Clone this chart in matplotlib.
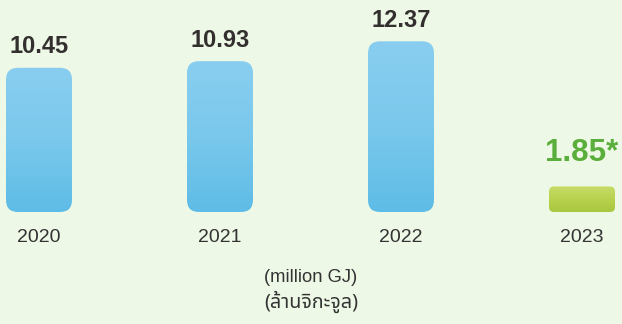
import numpy as np
import matplotlib
matplotlib.use("Agg")
import matplotlib.pyplot as plt
from matplotlib.patches import FancyBboxPatch
from matplotlib.colors import LinearSegmentedColormap

years = ["2020", "2021", "2022", "2023"]
energy = [10.45, 10.93, 12.37, 1.85]
value_labels = ["10.45", "10.93", "12.37", "1.85*"]

px_x = 181.0   # pixels per category
px_y = 13.8    # pixels per million GJ
base_px = 112  # baseline height from bottom

bg = "#eef8e6"
fig = plt.figure(figsize=(6.22, 3.24), dpi=100)
fig.patch.set_facecolor(bg)
ax = fig.add_axes([0, 0, 1, 1])
ax.set_facecolor(bg)
ax.set_xlim(-39 / px_x, 3 + 40 / px_x)
ax.set_ylim(-base_px / px_y, (324 - base_px) / px_y)
ax.axis("off")

blue = LinearSegmentedColormap.from_list("blue", ["#89cef0", "#7ac8ec", "#5ebce6"])
green = LinearSegmentedColormap.from_list("green", ["#c8dd6a", "#b8d24e", "#a9c740"])

width = 66 / px_x
aspect = px_x / px_y
grad = np.linspace(0, 1, 256).reshape(-1, 1)

for i, (yr, v, lab) in enumerate(zip(years, energy, value_labels)):
    last = i == len(years) - 1
    r = (5 if last else 12) / px_x
    patch = FancyBboxPatch((i - width / 2, 0), width, v,
                           boxstyle=f"round,pad=0,rounding_size={r}",
                           mutation_aspect=aspect, facecolor="none",
                           edgecolor="none")
    ax.add_patch(patch)
    im = ax.imshow(grad, cmap=green if last else blue, aspect="auto",
                   extent=(i - width / 2, i + width / 2, 0, v), origin="upper")
    im.set_clip_path(patch)

    # value above each bar, the 2023 one bigger and green
    if last:
        ax.annotate(lab, (i, v), xytext=(0, 24), textcoords="offset points",
                    ha="center", va="center", fontsize=22.5, fontweight="bold",
                    color="#5aae3c", family="Liberation Sans")
    else:
        ax.annotate(lab, (i, v), xytext=(0, 15), textcoords="offset points",
                    ha="center", va="center", fontsize=17, fontweight="bold",
                    color="#332f2f", family="Liberation Sans")
    ax.annotate(yr, (i, 0), xytext=(0, -18.5), textcoords="offset points",
                ha="center", va="center", fontsize=14, color="#333333",
                family="Liberation Sans")

fig.text(0.5, 0.145, "(million GJ)", ha="center", va="center",
         fontsize=13.2, color="#333333", family="Liberation Sans")
fig.text(0.5, 0.068, "(ล้านจิกะจูล)", ha="center", va="center",
         fontsize=14.2, color="#333333",
         family=["Noto Sans Thai", "Liberation Sans"])

fig.savefig("out.png", dpi=100, facecolor=fig.get_facecolor())
